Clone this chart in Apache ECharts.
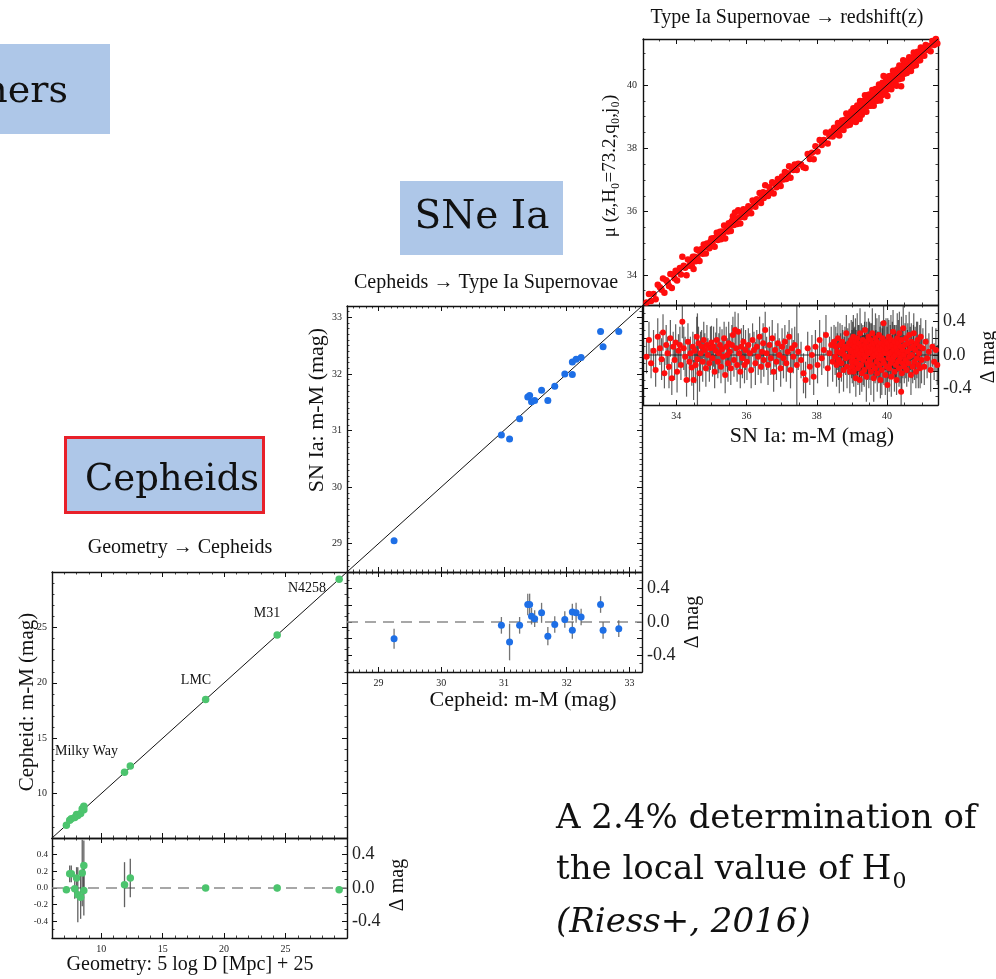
<!DOCTYPE html>
<html>
<head>
<meta charset="utf-8">
<script src="https://cdn.jsdelivr.net/npm/echarts@6/dist/echarts.min.js"></script>
<style>
  html, body { margin: 0; padding: 0; background: #fff; }
  #chart { width: 996px; height: 979px; }
</style>
</head>
<body>
<div id="chart"></div>
<script>
// ---------- Rung 1: geometric anchors -> Cepheids ----------
const geoRange = [6, 30];
const geoTicks = [10, 15, 20, 25];
const geoDistance = [7.17, 7.44, 7.57, 7.85, 8.00, 8.10, 8.33, 8.46, 8.59, 8.59, 11.90, 12.37, 18.50, 24.32, 29.36];
const geoDelta    = [-0.02, 0.17, 0.17, -0.01, 0.12, -0.08, -0.11, 0.18, 0.27, -0.03, 0.04, 0.12, 0.00, 0.00, -0.02];
const geoError    = [0.04, 0.10, 0.10, 0.12, 0.13, 0.33, 0.26, 0.40, 0.30, 0.30, 0.27, 0.23, 0.03, 0.04, 0.03];

// ---------- Rung 2: Cepheids -> Type Ia supernovae ----------
const cephRange = [28.5, 33.2];
const cephTicks = [29, 30, 31, 32, 33];
const cephDistance = [29.25, 30.96, 31.09, 31.25, 31.38, 31.41, 31.44, 31.49, 31.60, 31.70, 31.81, 31.97, 32.09, 32.09, 32.15, 32.23, 32.54, 32.58, 32.83];
const cephDelta    = [-0.20, -0.04, -0.24, -0.04, 0.21, 0.21, 0.07, 0.04, 0.11, -0.17, -0.03, 0.03, 0.12, -0.10, 0.11, 0.06, 0.21, -0.10, -0.08];
const cephError    = [0.12, 0.10, 0.22, 0.10, 0.13, 0.13, 0.10, 0.10, 0.12, 0.11, 0.10, 0.10, 0.10, 0.10, 0.12, 0.10, 0.10, 0.10, 0.10];

// ---------- Rung 3: Type Ia supernovae -> redshift ----------
const snRange = [33.05, 41.45];
const snTicks = [34, 36, 38, 40];
// [SN Ia distance modulus, residual, error]
const snIa = [
  [33.15,-0.02,.20],[33.22,0.18,.22],[33.28,-0.10,.18],[33.35,0.05,.25],[33.41,-0.18,.20],[33.47,0.22,.22],
  [33.53,0.08,.20],[33.58,-0.05,.25],[33.62,0.27,.22],[33.66,-0.22,.18],[33.71,0.12,.24],[33.75,0.02,.20],
  [33.79,-0.14,.26],[33.83,0.20,.22],[33.87,-0.28,.20],[33.91,0.10,.18],[33.95,-0.06,.24],[33.98,0.15,.22],
  [34.02,-0.20,.25],[34.06,0.05,.20],[34.10,0.12,.22],[34.13,-0.12,.18],[34.17,0.40,.20],[34.21,0.08,.26],
  [34.25,-0.02,.24],[34.29,-0.30,.20],[34.33,0.16,.22],[34.37,-0.08,.24],[34.40,0.02,.20],[34.44,-0.15,.22],
  [34.47,0.10,.18],[34.49,-0.30,.24],
  [34.52,0.05,.20],[34.55,-0.12,.22],[34.58,0.22,.24],[34.60,-0.05,.55],[34.63,0.14,.20],[34.66,-0.22,.22],
  [34.69,0.02,.26],[34.72,0.10,.20],[34.75,-0.08,.24],[34.78,0.18,.22],[34.81,0.06,.20],[34.84,-0.16,.22],
  [34.87,0.12,.24],[34.90,0.00,.20],[34.94,-0.10,.22],[34.97,0.08,.26],
  [35.00,0.15,.20],[35.03,-0.04,.22],[35.06,0.10,.24],[35.09,-0.20,.20],[35.12,0.05,.22],[35.15,0.18,.26],
  [35.18,-0.08,.20],[35.21,0.02,.24],[35.24,0.12,.22],[35.27,-0.14,.20],[35.30,0.07,.24],[35.33,-0.02,.22],
  [35.36,0.20,.20],[35.39,-0.24,.22],[35.42,0.10,.24],[35.45,0.00,.20],[35.47,-0.10,.22],[35.49,0.14,.26],
  [35.52,0.04,.22],[35.55,-0.16,.20],[35.58,0.12,.24],[35.61,0.24,.22],[35.64,-0.06,.20],[35.67,0.30,.22],
  [35.70,0.08,.26],[35.73,-0.12,.20],[35.76,0.28,.22],[35.79,0.02,.24],[35.82,-0.20,.20],[35.85,0.10,.22],
  [35.88,-0.04,.24],[35.91,0.16,.20],[35.94,-0.12,.22],[35.97,0.06,.24],
  [36.01,-0.08,.22],[36.05,0.12,.20],[36.09,0.02,.24],[36.13,-0.18,.22],[36.17,0.18,.20],[36.21,0.06,.22],
  [36.25,-0.10,.26],[36.29,0.10,.20],[36.33,-0.02,.22],[36.37,0.22,.24],[36.41,-0.14,.20],[36.44,0.04,.22],
  [36.47,0.14,.24],[36.49,-0.06,.20],
  [36.53,0.30,.22],[36.57,0.02,.20],[36.61,-0.12,.24],[36.65,0.12,.22],[36.69,-0.04,.20],[36.73,0.20,.22],
  [36.77,-0.20,.24],[36.81,0.06,.20],[36.85,-0.08,.22],[36.89,0.14,.24],[36.93,0.00,.20],[36.97,-0.16,.22],
  [37.01,0.10,.22],[37.05,-0.04,.24],[37.09,0.16,.20],[37.13,-0.10,.22],[37.17,0.04,.24],[37.21,0.22,.20],
  [37.25,-0.18,.22],[37.29,0.08,.24],[37.33,-0.02,.20],[37.37,0.12,.22],[37.43,-0.12,.95],[37.47,0.04,.22],
  [37.55,-0.06,.22],[37.62,-0.22,.24],[37.68,-0.30,.22],[37.74,0.08,.20],[37.80,-0.14,.22],[37.86,0.00,.24],
  [37.91,-0.26,.22],[37.96,0.10,.20],
  [38.02,-0.12,.22],[38.08,0.18,.24],[38.14,-0.04,.20],[38.20,0.06,.22],[38.26,0.24,.24],[38.31,-0.16,.22],
  [38.36,0.02,.20],[38.41,0.12,.22],[38.45,-0.08,.24],[38.49,0.16,.20],
  [38.52,-0.02,.22],[38.54,0.10,.24],[38.56,-0.12,.26],[38.58,0.04,.22],[38.60,0.20,.20],[38.62,-0.06,.24],
  [38.64,-0.24,.22],[38.66,0.12,.26],[38.68,0.02,.24],[38.70,-0.10,.22],[38.72,0.16,.20],[38.74,0.06,.24],
  [38.76,-0.18,.26],[38.78,0.00,.22],[38.80,0.10,.24],[38.82,-0.04,.20],[38.84,0.26,.22],[38.86,-0.14,.26],
  [38.88,0.08,.24],[38.90,-0.02,.22],[38.92,0.14,.24],[38.94,-0.20,.26],[38.96,0.04,.22],[38.98,0.18,.24],
  [38.99,-0.08,.20],
  [39.00,0.06,.24],[39.01,-0.14,.20],[39.02,0.12,.28],[39.03,-0.02,.22],[39.04,0.22,.26],[39.05,-0.20,.18],
  [39.06,0.02,.30],[39.08,0.10,.24],[39.09,-0.08,.20],[39.10,0.16,.28],[39.11,-0.28,.22],[39.12,0.04,.26],
  [39.14,-0.10,.18],[39.15,0.20,.30],[39.16,0.00,.24],[39.17,-0.16,.20],[39.18,0.08,.28],[39.20,0.14,.22],
  [39.21,-0.04,.26],[39.22,-0.30,.18],[39.23,0.26,.30],[39.25,0.02,.24],[39.26,-0.12,.20],[39.27,0.10,.28],
  [39.28,-0.22,.22],[39.30,0.06,.26],[39.31,0.18,.18],[39.32,-0.06,.30],[39.34,0.00,.24],[39.35,-0.18,.20],
  [39.36,0.12,.28],[39.37,0.30,.22],[39.39,-0.02,.26],[39.40,0.08,.18],[39.41,-0.26,.30],[39.42,0.16,.24],
  [39.44,-0.10,.20],[39.45,0.04,.28],[39.47,0.22,.22],[39.48,-0.14,.26],[39.49,0.02,.18],
  [39.50,0.10,.30],[39.51,-0.06,.24],[39.52,0.18,.20],[39.54,-0.20,.28],[39.55,0.04,.22],[39.56,0.12,.26],
  [39.57,-0.12,.18],[39.58,0.26,.30],[39.60,-0.02,.24],[39.61,0.08,.20],[39.62,-0.28,.28],[39.63,0.14,.22],
  [39.65,0.00,.26],[39.66,-0.16,.18],[39.67,0.20,.30],[39.68,0.06,.24],[39.70,-0.08,.20],[39.71,0.16,.28],
  [39.72,-0.22,.22],[39.73,0.02,.26],[39.75,0.10,.18],[39.76,-0.04,.30],[39.77,0.24,.24],[39.78,-0.12,.20],
  [39.80,0.06,.28],[39.81,-0.30,.22],[39.82,0.14,.26],[39.83,0.00,.18],[39.85,-0.18,.30],[39.86,0.08,.24],
  [39.87,0.20,.20],[39.88,-0.06,.28],[39.90,0.38,.22],[39.91,-0.10,.26],[39.92,0.04,.18],[39.93,0.12,.30],
  [39.95,-0.24,.24],[39.96,0.02,.20],[39.97,0.16,.28],[39.99,-0.14,.22],
  [40.00,0.08,.26],[40.01,-0.36,.18],[40.02,0.14,.30],[40.04,-0.04,.24],[40.05,0.22,.20],[40.06,-0.16,.28],
  [40.07,0.02,.22],[40.09,0.10,.26],[40.10,-0.10,.18],[40.11,0.18,.30],[40.12,-0.26,.24],[40.14,0.04,.20],
  [40.15,0.12,.28],[40.16,-0.06,.22],[40.17,0.28,.26],[40.19,-0.02,.18],[40.20,0.06,.30],[40.21,-0.20,.24],
  [40.22,0.16,.20],[40.24,0.00,.28],[40.25,-0.12,.22],[40.26,0.10,.26],[40.27,-0.30,.18],[40.29,0.20,.30],
  [40.30,0.04,.24],[40.31,-0.08,.20],[40.32,0.14,.28],[40.34,-0.16,.22],[40.35,0.26,.26],[40.36,0.02,.18],
  [40.37,-0.04,.30],[40.39,0.10,.24],[40.40,-0.44,.20],[40.41,0.18,.28],[40.42,-0.22,.22],[40.44,0.06,.26],
  [40.45,-0.10,.18],[40.46,0.32,.30],[40.48,0.00,.24],[40.49,-0.14,.20],
  [40.51,0.12,.26],[40.53,-0.06,.22],[40.54,0.20,.28],[40.56,-0.18,.20],[40.58,0.04,.26],[40.59,0.14,.24],
  [40.61,-0.10,.22],[40.63,0.24,.28],[40.64,-0.02,.20],[40.66,0.08,.26],[40.68,-0.24,.24],[40.69,0.16,.22],
  [40.71,0.00,.28],[40.73,-0.14,.20],[40.75,0.10,.26],[40.76,0.26,.24],[40.78,-0.08,.22],[40.80,0.06,.28],
  [40.82,-0.20,.20],[40.84,0.14,.26],[40.85,-0.04,.24],[40.87,0.18,.22],[40.89,-0.12,.28],[40.91,0.02,.20],
  [40.93,0.10,.26],[40.94,-0.16,.24],[40.96,0.22,.22],[40.98,-0.06,.28],
  [41.02,0.08,.24],[41.06,-0.14,.22],[41.10,0.16,.26],[41.14,-0.04,.24],[41.19,0.04,.22],[41.24,-0.18,.26],
  [41.29,0.10,.24],[41.34,-0.08,.22],[41.39,0.06,.26],[41.43,-0.12,.24]
];

// ---------- residual panels ----------
const resRange = [-0.6, 0.6];
const resTicksBig = [0.4, 0.0, -0.4];
const resTicksSmall = [0.4, 0.2, 0.0, -0.2, -0.4];

const SERIF = '"Liberation Serif", "Times New Roman", serif';
const TEX = '"DejaVu Serif", serif';

const grids = [];
const xAxes = [];
const yAxes = [];

function near(list, v) { return list.some(t => Math.abs(t - v) < 1e-6); }

function axis(kind, gridIndex, position, range, o) {
  const a = {
    type: 'value', gridIndex, position, min: range[0], max: range[1],
    axisLine: { show: true, onZero: false, lineStyle: { color: '#111', width: 1.4 } },
    axisTick: { show: true, inside: true, length: 5, lineStyle: { color: '#111', width: 1 } },
    minorTick: { show: true, splitNumber: o.minor, length: 2.5, lineStyle: { color: '#111', width: 0.8 } },
    splitLine: { show: false },
    minorSplitLine: { show: false },
    axisLabel: { show: false }
  };
  if (o.interval) a.interval = o.interval; else a.splitNumber = o.split;
  if (o.labels) {
    a.axisLabel = {
      show: true, margin: o.margin, fontSize: o.fontSize, fontFamily: SERIF, color: '#222',
      showMinLabel: true, showMaxLabel: true,
      formatter: v => near(o.labels, v) ? (o.fixed ? (Math.abs(v) < 1e-9 ? '0.0' : v.toFixed(1)) : String(v)) : ''
    };
  }
  (kind === 'x' ? xAxes : yAxes).push(a);
}

function panel(box, xr, yr, cfg) {
  grids.push({ left: box[0], top: box[1], width: box[2], height: box[3], containLabel: false, outerBoundsMode: 'none' });
  const g = grids.length - 1;
  axis('x', g, 'bottom', xr, cfg.xb);
  axis('x', g, 'top', xr, Object.assign({}, cfg.xb, { labels: null }));
  axis('y', g, 'left', yr, cfg.yl);
  axis('y', g, 'right', yr, cfg.yr || Object.assign({}, cfg.yl, { labels: null }));
  return g;
}

const resLeftPlain = { interval: 0.2, minor: 2 };
const resRightBig = { interval: 0.2, minor: 2, labels: resTicksBig, fixed: true, fontSize: 18, margin: 5 };

// panel 0/1: geometry -> Cepheids
const gGeo = panel([52, 572, 295, 266], geoRange, geoRange, {
  xb: { split: 5, minor: 5 },
  yl: { split: 5, minor: 5, labels: geoTicks, fontSize: 10, margin: 5 }
});
const gGeoRes = panel([52, 838, 295, 100], geoRange, resRange, {
  xb: { split: 5, minor: 5, labels: geoTicks, fontSize: 10, margin: 6 },
  yl: { interval: 0.2, minor: 2, labels: resTicksSmall, fixed: true, fontSize: 9, margin: 4 },
  yr: resRightBig
});
// panel 2/3: Cepheids -> SNe Ia
const gCeph = panel([347, 306, 295, 266], cephRange, cephRange, {
  xb: { split: 5, minor: 10 },
  yl: { split: 5, minor: 10, labels: cephTicks, fontSize: 10, margin: 5 }
});
const gCephRes = panel([347, 572, 295, 100], cephRange, resRange, {
  xb: { split: 5, minor: 10, labels: cephTicks, fontSize: 10, margin: 6 },
  yl: resLeftPlain,
  yr: resRightBig
});
// panel 4/5: SNe Ia -> redshift
const gSn = panel([643, 39, 295, 266], snRange, snRange, {
  xb: { split: 4, minor: 4 },
  yl: { split: 4, minor: 4, labels: snTicks, fontSize: 10, margin: 6 }
});
const gSnRes = panel([643, 305, 295, 100], snRange, resRange, {
  xb: { split: 4, minor: 4, labels: snTicks, fontSize: 10, margin: 6 },
  yl: resLeftPlain,
  yr: resRightBig
});

function ax(g) { return { xAxisIndex: 2 * g, yAxisIndex: 2 * g }; }

function diagonal(g, r, z) {
  return Object.assign({ type: 'line', data: [[r[0], r[0]], [r[1], r[1]]], symbol: 'none', silent: true,
    lineStyle: { color: '#111', width: 1 }, z: z }, ax(g));
}
function zeroLine(g, r, dashed) {
  return Object.assign({ type: 'line', data: [[r[0], 0], [r[1], 0]], symbol: 'none', silent: true,
    lineStyle: dashed ? { color: '#8a8a8a', width: 1.3, type: [11, 7] } : { color: '#333', width: 1 }, z: 1 }, ax(g));
}
function errorBars(g, rows, color, width, opacity) {
  return Object.assign({
    type: 'custom', data: rows, silent: true, z: 2,
    encode: { x: 0, y: 1 },
    renderItem(params, api) {
      const x = api.value(0), y = api.value(1), e = api.value(2);
      const a = api.coord([x, y - e]), b = api.coord([x, y + e]);
      const cs = params.coordSys;
      const clamp = v => Math.max(cs.y, Math.min(cs.y + cs.height, v));
      return { type: 'line', shape: { x1: a[0], y1: clamp(a[1]), x2: b[0], y2: clamp(b[1]) },
        style: { stroke: color, lineWidth: width, opacity: opacity } };
    }
  }, ax(g));
}
function dots(g, pts, color, size, z) {
  return Object.assign({ type: 'scatter', data: pts, symbol: 'circle', symbolSize: size, silent: true,
    itemStyle: { color: color, opacity: 1 }, z: z || 4 }, ax(g));
}

const GREEN = '#4cc46e', BLUE = '#1e6fe6', RED = '#ff0d0d';

const series = [
  // geometry -> Cepheids
  diagonal(gGeo, geoRange, 3),
  dots(gGeo, geoDistance.map((d, i) => [d, d + geoDelta[i]]), GREEN, 7.5, 4),
  zeroLine(gGeoRes, geoRange, true),
  errorBars(gGeoRes, geoDistance.map((d, i) => [d, geoDelta[i], geoError[i]]), '#3a3a3a', 1.3, 0.8),
  dots(gGeoRes, geoDistance.map((d, i) => [d, geoDelta[i]]), GREEN, 7.5, 4),
  // Cepheids -> SNe Ia
  diagonal(gCeph, cephRange, 3),
  dots(gCeph, cephDistance.map((d, i) => [d, d + cephDelta[i]]), BLUE, 7, 4),
  zeroLine(gCephRes, cephRange, true),
  errorBars(gCephRes, cephDistance.map((d, i) => [d, cephDelta[i], cephError[i]]), '#666', 1.3, 0.9),
  dots(gCephRes, cephDistance.map((d, i) => [d, cephDelta[i]]), BLUE, 7, 4),
  // SNe Ia -> redshift
  dots(gSn, snIa.map(r => [r[0], r[0] + r[1]]), RED, 6.5, 3),
  diagonal(gSn, snRange, 5),
  zeroLine(gSnRes, snRange, false),
  errorBars(gSnRes, snIa, '#1c1c1c', 1.2, 0.7),
  dots(gSnRes, snIa.map(r => [r[0], r[1]]), RED, 6, 4)
];

function txt(text, x, y, font, align, rot, fill) {
  return {
    type: 'text', x: x, y: y, rotation: rot || 0, silent: true, z: 50,
    style: { text: text, x: 0, y: 0, font: font, fill: fill || '#111',
      textAlign: align || 'center', textVerticalAlign: 'middle', align: align || 'center', verticalAlign: 'middle' }
  };
}
const UP = Math.PI / 2;
const BOXFILL = '#aec7e8';

// width of the second note line, so the subscript sits right after "H"
const noteFont = '34px ' + TEX;
const noteLine2 = 'the local value of H';
const measure = document.createElement('canvas').getContext('2d');
measure.font = noteFont;
const noteLine2Width = measure.measureText(noteLine2).width;

const graphic = [
  // stage boxes
  { type: 'rect', shape: { x: -5, y: 44, width: 115, height: 90 }, style: { fill: BOXFILL }, z: 40, silent: true },
  txt('ners', 68, 92, '38px ' + TEX, 'right'),
  { type: 'rect', shape: { x: 400, y: 181, width: 163, height: 74 }, style: { fill: BOXFILL }, z: 40, silent: true },
  txt('SNe Ia', 482, 218, '39px ' + TEX),
  { type: 'rect', shape: { x: 65.5, y: 437.5, width: 198, height: 75 }, style: { fill: BOXFILL, stroke: '#e8202a', lineWidth: 3 }, z: 40, silent: true },
  txt('Cepheids', 172, 480, '37px ' + TEX),

  // panel titles
  txt('Type Ia Supernovae \u2192 redshift(z)', 787, 18, '20px ' + SERIF),
  txt('Cepheids \u2192 Type Ia Supernovae', 486, 283, '20px ' + SERIF),
  txt('Geometry \u2192 Cepheids', 180, 548, '20px ' + SERIF),

  // axis names
  txt('\u03bc (z,H\u2080=73.2,q\u2080,j\u2080)', 610, 166, '19px ' + SERIF, 'center', UP),
  txt('SN Ia: m-M (mag)', 812, 436, '22px ' + SERIF),
  txt('\u0394 mag', 989, 357, '20px ' + SERIF, 'center', UP),
  txt('SN Ia: m-M (mag)', 317, 410, '22px ' + SERIF, 'center', UP),
  txt('Cepheid: m-M (mag)', 523, 700, '22px ' + SERIF),
  txt('\u0394 mag', 693, 622, '20px ' + SERIF, 'center', UP),
  txt('Cepheid: m-M (mag)', 27, 702, '21px ' + SERIF, 'center', UP),
  txt('\u0394 mag', 398, 885, '20px ' + SERIF, 'center', UP),
  txt('Geometry: 5 log D [Mpc] + 25', 190, 965, '20px ' + SERIF),

  // anchor galaxies
  txt('Milky Way', 55, 751, '14px ' + SERIF, 'left'),
  txt('LMC', 196, 680, '14px ' + SERIF),
  txt('M31', 267, 613, '14px ' + SERIF),
  txt('N4258', 307, 588, '14px ' + SERIF),

  // summary note
  txt('A 2.4% determination of', 556, 819, noteFont, 'left'),
  txt(noteLine2, 556, 870, noteFont, 'left'),
  txt('0', 556 + noteLine2Width + 1, 882, '22px ' + TEX, 'left'),
  txt('(Riess+, 2016)', 556, 923, 'italic 34px ' + TEX, 'left')
];

const chart = echarts.init(document.getElementById('chart'), null, { renderer: 'canvas' });
chart.setOption({
  animation: false,
  backgroundColor: '#fff',
  grid: grids,
  xAxis: xAxes,
  yAxis: yAxes,
  series: series,
  graphic: graphic
});
</script>
</body>
</html>
